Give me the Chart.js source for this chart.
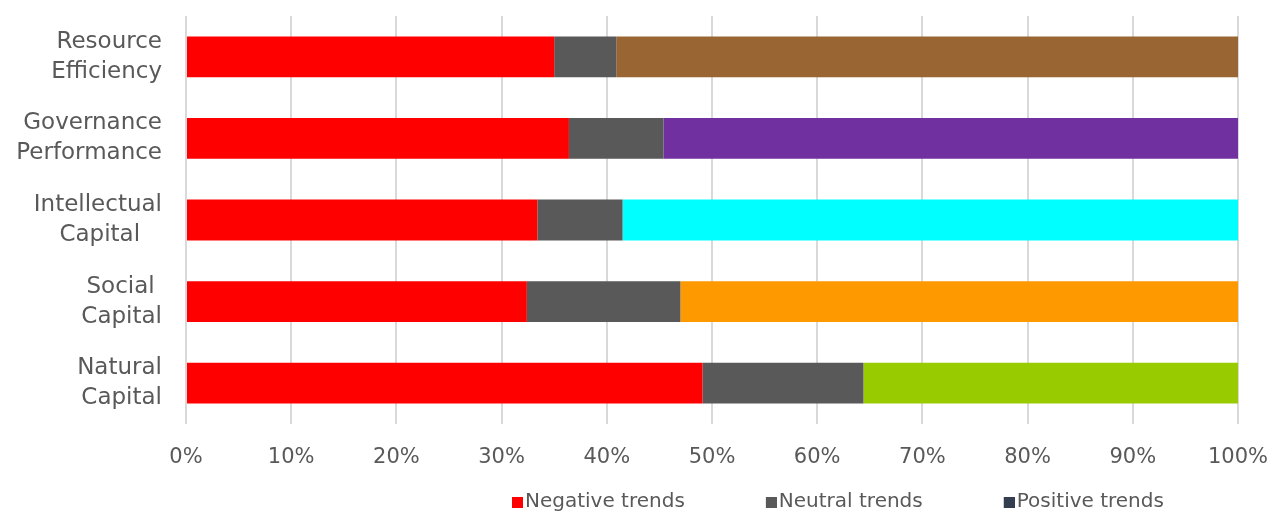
<!DOCTYPE html>
<html>
<head>
<meta charset="utf-8">
<script src="https://cdn.jsdelivr.net/npm/chart.js@4.4.1/dist/chart.umd.min.js"></script>
<style>
  html, body { margin: 0; padding: 0; background: #ffffff; }
  #wrap { width: 1271px; height: 514px; position: relative; }
</style>
</head>
<body>
<div id="wrap"><canvas id="c"></canvas></div>
<script>
const categories = [
  ["Resource", "Efficiency"],
  ["Governance", "Performance"],
  ["Intellectual", "Capital   "],
  ["Social ", "Capital"],
  ["Natural", "Capital"]
];
const seriesNames = ["Negative trends", "Neutral trends", "Positive trends"];
const negativeValues = [35.0, 36.4, 33.4, 32.4, 49.1];
const neutralValues  = [5.9, 9.0, 8.1, 14.6, 15.3];
const positiveValues = [59.1, 54.6, 58.5, 53.0, 35.6];
const xTicks = [0, 10, 20, 30, 40, 50, 60, 70, 80, 90, 100];

const negativeColor = "#FF0000";
const neutralColor = "#595959";
const positiveColors = ["#996633", "#7030A0", "#00FFFF", "#FF9900", "#99CC00"];
const positiveLegendColor = "#333F50";
const textColor = "#595959";
const FONT = "'DejaVu Sans', sans-serif";

function noScalePadding(scale) {
  scale.paddingTop = 0;
  scale.paddingBottom = 0;
  scale.paddingLeft = 0;
  scale.paddingRight = 0;
}

// legend marker: 11px square sitting on the right of a 17px-wide transparent image
function legendMarker(color) {
  const c = document.createElement('canvas');
  c.width = 17; c.height = 11;
  const g = c.getContext('2d');
  g.fillStyle = color;
  g.fillRect(6, 0, 11, 11);
  return c;
}

const legendPlace = {
  id: 'legendPlace',
  afterLayout(chart) {
    const lg = chart.legend;
    if (!lg) return;
    const pad = lg.options.labels.padding;
    lg.left = 514 - pad;
    lg.right = chart.width + 300;
    lg.top = 502 - 10 - pad;
    lg.bottom = chart.height;
  }
};

new Chart(document.getElementById('c'), {
  type: 'bar',
  data: {
    labels: categories,
    datasets: [
      { label: seriesNames[0], data: negativeValues, backgroundColor: negativeColor },
      { label: seriesNames[1], data: neutralValues, backgroundColor: neutralColor },
      { label: seriesNames[2], data: positiveValues, backgroundColor: positiveColors }
    ]
  },
  options: {
    indexAxis: 'y',
    responsive: true,
    maintainAspectRatio: false,
    animation: false,
    datasets: { bar: { categoryPercentage: 1.0, barPercentage: 0.5, borderWidth: 0 } },
    layout: { padding: { top: 16, right: 33, left: 0, bottom: 0 } },
    scales: {
      x: {
        stacked: true,
        min: 0,
        max: 100,
        afterBuildTicks(scale) { scale.ticks = xTicks.map(v => ({ value: v })); },
        afterFit(scale) { scale.height = 50; noScalePadding(scale); },
        grid: { color: '#D9D9D9', lineWidth: 2, drawTicks: false },
        border: { display: false },
        ticks: {
          color: textColor,
          font: { family: FONT, size: 21 },
          padding: 21,
          callback: v => v + '%'
        }
      },
      y: {
        stacked: true,
        afterFit(scale) { scale.width = 186; noScalePadding(scale); },
        grid: { display: false, drawTicks: false },
        border: { display: false },
        ticks: {
          color: textColor,
          font: { family: FONT, size: 23, lineHeight: 1.3 },
          padding: 24,
          autoSkip: false
        }
      }
    },
    plugins: {
      tooltip: { enabled: false },
      legend: {
        position: 'bottom',
        align: 'start',
        maxHeight: 40,
        labels: {
          color: textColor,
          font: { family: FONT, size: 20 },
          usePointStyle: true,
          pointStyleWidth: 1,
          boxHeight: 11,
          padding: 83,
          generateLabels(chart) {
            const items = Chart.defaults.plugins.legend.labels.generateLabels(chart);
            items.forEach((it, i) => {
              const col = i === 2 ? positiveLegendColor : chart.data.datasets[i].backgroundColor;
              it.fillStyle = col;
              it.strokeStyle = col;
              it.lineWidth = 0;
              it.pointStyle = legendMarker(col);
            });
            return items;
          }
        }
      }
    }
  },
  plugins: [legendPlace]
});
</script>
</body>
</html>
